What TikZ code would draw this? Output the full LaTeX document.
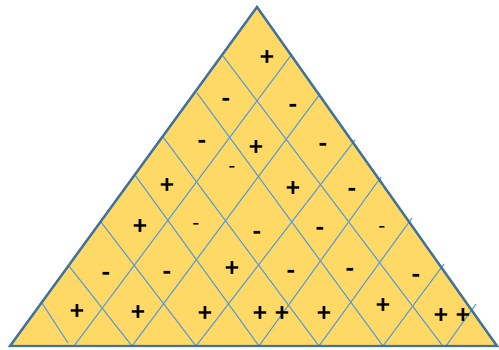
\documentclass[tikz,border=0pt]{standalone}
\usepackage{fontspec}
\setmainfont{Carlito}
\usepackage{tikz}
\definecolor{triyellow}{RGB}{255,217,102}
\definecolor{triedge}{RGB}{65,113,156}
\definecolor{gridblue}{RGB}{91,155,213}

\begin{document}
\begin{tikzpicture}[x=1pt,y=-1pt,
  gridline/.style={gridblue,line width=1.1pt},
  plussign/.style={font=\fontsize{27}{27}\selectfont\bfseries,inner sep=0pt},
  minussign/.style={font=\fontsize{27}{27}\selectfont\bfseries,inner sep=0pt,yshift=-3pt},
  smallminus/.style={font=\fontsize{22}{22}\selectfont,inner sep=0pt,yshift=-2.5pt}]
\useasboundingbox (0,0) rectangle (499,349);
% ---------- triangle ----------
\coordinate (apex) at (257,7);
\coordinate (bl) at (10,346);
\coordinate (br) at (497,346);
\fill[triyellow] (apex) -- (bl) -- (br) -- cycle;
% lines from the left side, going down to the right
\foreach \ax/\ay/\bx/\by in {223/56/442/345,197/93/383/346,163/137/319/346,135/175/259/346,
    101/222/196/346,69/266/132/346,42/303/68/343}
  \draw[gridline] (\ax,\ay) -- (\bx,\by);
% lines from the right side, going down to the left
\foreach \ax/\ay/\bx/\by in {292/54/74/346,320/94/132/346,355/140/196/346,381/177/259/346,
    412/218/319/346,444/264/383/346,476/304/446/346}
  \draw[gridline] (\ax,\ay) -- (\bx,\by);
\draw[triedge,line width=2.4pt,line join=miter] (apex) -- (bl) -- (br) -- cycle;
% ---------- signs ----------
\foreach \x/\y [count=\i] in {267/58,256/148,167/186,293/189,140/227,232/269,77/312,138/313,
    205/314,260/314,282/314,324/314,383/306,441/316,463/316}
  \node[plussign] (p\i) at (\x,\y) {+};
\foreach \x/\y [count=\i] in {226/100,293/106,202/142,323/145,352/190,257/233,320/229,
    106/274,167/273,291/272,350/270,416/276}
  \node[minussign] (m\i) at (\x,\y) {-};
\foreach \x/\y [count=\i] in {232/167,196/224,382/227}
  \node[smallminus] (n\i) at (\x,\y) {-};
\end{tikzpicture}
\end{document}
